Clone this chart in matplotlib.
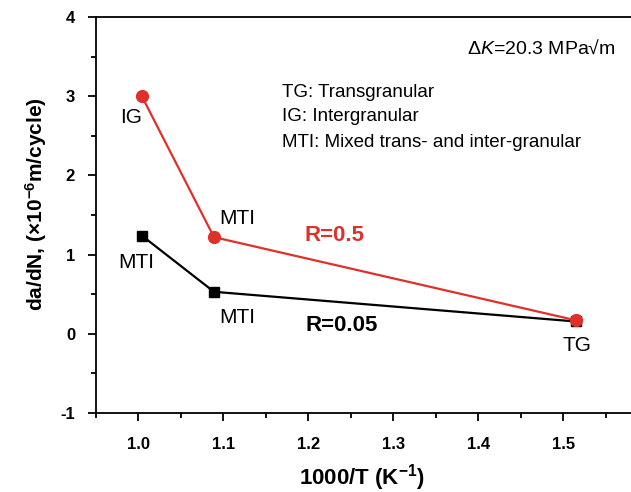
import matplotlib
matplotlib.use('Agg')
import matplotlib.pyplot as plt
from matplotlib.ticker import MultipleLocator

plt.rcParams['font.family'] = ['Liberation Sans', 'DejaVu Sans']
plt.rcParams['mathtext.fontset'] = 'custom'
plt.rcParams['mathtext.rm'] = 'Liberation Sans'
plt.rcParams['mathtext.it'] = 'Liberation Sans:italic'
plt.rcParams['mathtext.bf'] = 'Liberation Sans:bold'

# 1000/T values and crack growth rates (x1e-6 m/cycle)
inv_T = [1.004, 1.089, 1.515]
rate_r05 = [3.0, 1.22, 0.17]
rate_r005 = [1.24, 0.53, 0.155]
red = '#e0302a'

fig = plt.figure(figsize=(6.31, 4.92), dpi=100)
ax = fig.add_axes([0.152, 0.1606, 0.875, 0.805])

ax.plot(inv_T, rate_r005, '-s', color='black', lw=1.6, ms=7, zorder=3)
ax.plot(inv_T, rate_r05, '-o', color=red, lw=1.6, ms=8.5, zorder=4)

ax.set_xlim(0.95, 1.6)
ax.set_ylim(-1, 4)
ax.xaxis.set_minor_locator(MultipleLocator(0.05))
ax.yaxis.set_minor_locator(MultipleLocator(0.5))
ax.set_xticks([1.0, 1.1, 1.2, 1.3, 1.4, 1.5])
ax.set_xticklabels(['1.0', '1.1', '1.2', '1.3', '1.4', '1.5'])
ax.set_yticks([-1, 0, 1, 2, 3, 4])
ax.set_yticklabels(['-1', '0', '1', '2', '3', '4'])

ax.spines['right'].set_visible(False)
for s in ['left', 'top', 'bottom']:
    ax.spines[s].set_linewidth(1.3)
ax.tick_params(which='major', direction='out', length=6, width=1.3, labelsize=12)
ax.tick_params(axis='x', which='major', pad=11)
ax.tick_params(axis='y', which='major', pad=9)
ax.tick_params(which='minor', direction='out', length=3.5, width=1.3)
for lb in ax.get_xticklabels() + ax.get_yticklabels():
    lb.set_fontweight('bold')

ax.set_xlabel(r'1000/T (K$^{\mathbf{-1}}$)', fontsize=16, fontweight='bold')
ax.xaxis.set_label_coords(0.482, -0.123)
ax.set_ylabel(r'da/dN, ($\mathbf{\times}$10$^{\mathbf{-6}}$m/cycle)', fontsize=15,
              fontweight='bold')
ax.yaxis.set_label_coords(-0.085, 0.528)

ax.text(1.562, 3.61, r'$\mathit{\Delta K}$=20.3 MPa√m', fontsize=14, ha='right', va='center')
ax.text(1.169, 3.04, 'TG: Transgranular', fontsize=13.5, va='center')
ax.text(1.169, 2.74, 'IG: Intergranular', fontsize=13.5, va='center')
ax.text(1.169, 2.42, 'MTI: Mixed trans- and inter-granular', fontsize=13.5, va='center')

ax.text(0.991, 2.73, 'IG', fontsize=15, ha='center', va='center')
ax.text(0.998, 0.90, 'MTI', fontsize=15, ha='center', va='center')
ax.text(1.116, 1.46, 'MTI', fontsize=15, ha='center', va='center')
ax.text(1.116, 0.20, 'MTI', fontsize=15, ha='center', va='center')
ax.text(1.516, -0.15, 'TG', fontsize=15, ha='center', va='center')
ax.text(1.231, 1.24, 'R=0.5', fontsize=16, fontweight='bold', color=red, ha='center', va='center')
ax.text(1.239, 0.11, 'R=0.05', fontsize=16, fontweight='bold', ha='center', va='center')

fig.savefig('out.png', dpi=100)
